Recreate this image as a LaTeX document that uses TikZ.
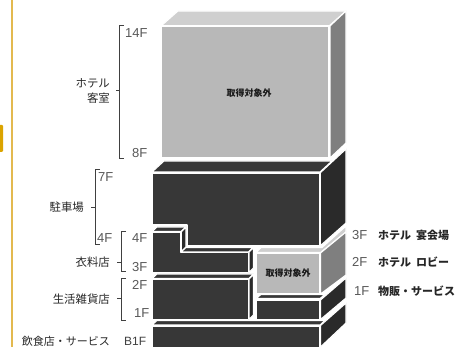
\documentclass[tikz,border=0pt]{standalone}
\usepackage{fontspec}
\setmainfont{Liberation Sans}
\newfontfamily\jp{Noto Sans CJK JP}
\definecolor{dk}{HTML}{373737}
\definecolor{dkside}{HTML}{2A2A2A}
\definecolor{gfront}{HTML}{B8B8B8}
\definecolor{gtop}{HTML}{CFCFCF}
\definecolor{gside}{HTML}{7F7F7F}
\definecolor{brk}{HTML}{404040}
\tikzset{
  x=1pt,y=-1pt,
  face/.style={draw=white,line width=1.1pt,line join=round},
  dkface/.style={face,fill=dk},
  sideface/.style={face,fill=dkside},
  bracketline/.style={draw=brk,line width=1pt},
  floorlabel/.style={inner sep=0pt,text=black!65,font=\fontsize{13}{14}\selectfont},
  tenant/.style={inner sep=0pt,anchor=east,text=black!85,font=\jp\fontsize{11.4}{12}\selectfont},
  hotel/.style={inner sep=0pt,anchor=west,text=black!85,font=\jp\bfseries\fontsize{11}{12}\selectfont},
  excl/.style={inner sep=0pt,text=black!90,font=\jp\bfseries\fontsize{9}{10}\selectfont},
}
\begin{document}
\begin{tikzpicture}
\useasboundingbox (0,0) rectangle (455,347);
% page edge
\fill[white] (0,0) rectangle (455,347);
\fill[color={rgb,255:red,227;green,185;blue,79}] (11,0) rectangle (13,347);
\fill[color={rgb,255:red,219;green,164;blue,0},rounded corners=1pt] (-3,125) rectangle (3,152);
% hotel rooms block
\path[face,fill=gtop] (161,26) -- (178,11) -- (346,11) -- (329,26) -- cycle;
\path[face,fill=gside] (330,26) -- (346,11) -- (346,143) -- (330,158) -- cycle;
\path[face,fill=gfront] (161,26) rectangle (329,158);
% parking block
\path[sideface] (320,173) -- (346,149) -- (346,223) -- (320,246) -- cycle;
\path[face,fill=dk] (152,172) -- (164,161) -- (332,161) -- (320,172) -- cycle;
\path[dkface] (152,173) -- (320,173) -- (320,246) -- (187,246) -- (187,225) -- (152,225) -- cycle;
% 4F-3F block
\path[dkface] (152,231.5) -- (157,227) -- (186,227) -- (181,231.5) -- cycle;
\path[sideface] (181,232) -- (186,227) -- (186,247) -- (181,252) -- cycle;
\path[dkface] (181,252) -- (186,247.5) -- (253,247.5) -- (248.5,252) -- cycle;
\path[sideface] (249,252) -- (253.5,247.5) -- (253.5,268) -- (249,272.5) -- cycle;
\path[dkface] (152,232) -- (181,232) -- (181,252.5) -- (248.5,252.5) -- (248.5,272.5) -- (152,272.5) -- cycle;
% 2F-1F block
\path[dkface] (152,278.5) -- (157,274) -- (253.5,274) -- (249,278.5) -- cycle;
\path[sideface] (249,279) -- (253.5,274.5) -- (253.5,315) -- (249,319.5) -- cycle;
\path[dkface] (152,279) rectangle (248.5,319.5);
% excluded retail block
\path[face,fill=gtop] (256,252.5) -- (261,247.5) -- (322,247.5) -- (346,226) -- (346,232) -- (320.5,252.5) -- cycle;
\path[face,fill=gside] (320.5,253) -- (346,232) -- (346,275) -- (320.5,294) -- cycle;
\path[face,fill=gfront] (256,253) rectangle (320,293.5);
% 1F right block
\path[dkface] (256,298.5) -- (261,294.5) -- (325,294.5) -- (320,298.5) -- cycle;
\path[sideface] (320.5,300) -- (346,278) -- (346,298) -- (320.5,319.5) -- cycle;
\path[dkface] (256,300) rectangle (320,319.5);
% B1F
\path[dkface] (152,325) -- (157,320.5) -- (325,320.5) -- (320,325) -- cycle;
\path[sideface] (320.5,325.5) -- (346,303) -- (346,323) -- (320.5,347) -- cycle;
\path[dkface] (152,326) rectangle (320,349);
% brackets
\draw[bracketline] (124,26) -| (119,159) -- (124,159);
\draw[bracketline] (119,90.5) -- (116,90.5);
\draw[bracketline] (100,169.5) -| (95,245) -- (100,245);
\draw[bracketline] (95,207.5) -- (91,207.5);
\draw[bracketline] (126,231.5) -| (121,272) -- (126,272);
\draw[bracketline] (121,263) -- (117,263);
\draw[bracketline] (126,278.5) -| (121,320) -- (126,320);
\draw[bracketline] (121,299) -- (117,299);
% floors, left
\node[floorlabel,anchor=west] (f14) at (125,33.5) {14F};
\node[floorlabel,anchor=west] (f8) at (132,153) {8F};
\node[floorlabel,anchor=west] (f7) at (98,177.5) {7F};
\node[floorlabel,anchor=west] (f4a) at (97,238) {4F};
\node[floorlabel,anchor=west] (f4b) at (132,238) {4F};
\node[floorlabel,anchor=west] (f3) at (132,267.5) {3F};
\node[floorlabel,anchor=west] (f2) at (132,285) {2F};
\node[floorlabel,anchor=west] (f1) at (134,313) {1F};
\node[floorlabel,anchor=west,text=black!75,font=\fontsize{12}{13}\selectfont] (fb1) at (124,341.5) {B1F};
% tenants
\node[tenant] (t1) at (110,83) {ホテル};
\node[tenant] (t2) at (110,98) {客室};
\node[tenant] (t3) at (84,207.5) {駐車場};
\node[tenant] (t4) at (110,262.5) {衣料店};
\node[tenant] (t5) at (110,299.5) {生活雑貨店};
\node[tenant,font=\jp\fontsize{11}{12}\selectfont] (t6) at (110,341.5) {飲食店・サービス};
% excluded
\node[excl] (x1) at (249,93) {取得対象外};
\node[excl] (x2) at (288,273) {取得対象外};
% right
\node[floorlabel,anchor=west] (r3) at (352,235) {3F};
\node[floorlabel,anchor=west] (r2) at (352,262) {2F};
\node[floorlabel,anchor=west] (r1) at (354,291) {1F};
\node[hotel] (h3) at (378,235) {ホテル\hspace{5pt}宴会場};
\node[hotel] (h2) at (378,262) {ホテル\hspace{5pt}ロビー};
\node[hotel] (h1) at (378,291) {物販・サービス};
\end{tikzpicture}
\end{document}
